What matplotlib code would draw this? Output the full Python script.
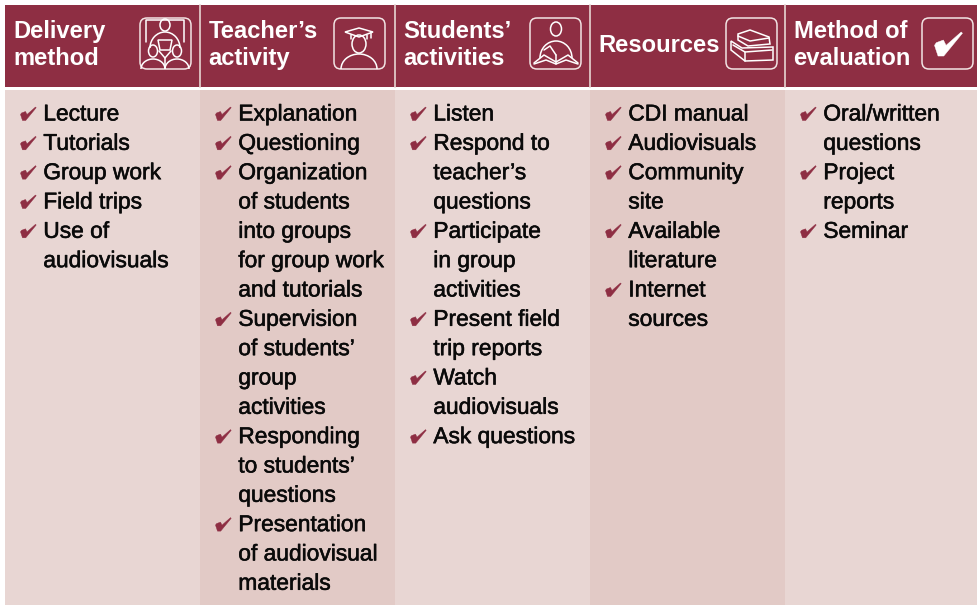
import matplotlib
matplotlib.use('Agg')
import matplotlib.pyplot as plt
import matplotlib.patheffects as pe
from matplotlib.patches import Rectangle, FancyBboxPatch, Ellipse, Arc, Polygon

WINE = '#8E2E43'
LIGHT = '#E8D6D3'
DARK = '#E2CAC6'
CHECK = '#8E2E43'

headers = ['Delivery\nmethod', "Teacher\u2019s\nactivity", "Students\u2019\nactivities",
           'Resources', 'Method of\nevaluation']

delivery = ['Lecture', 'Tutorials', 'Group work', 'Field trips', 'Use of\naudiovisuals']
teacher = ['Explanation', 'Questioning',
           'Organization\nof students\ninto groups\nfor group work\nand tutorials',
           "Supervision\nof students\u2019\ngroup\nactivities",
           "Responding\nto students\u2019\nquestions",
           'Presentation\nof audiovisual\nmaterials']
students = ['Listen', "Respond to\nteacher\u2019s\nquestions", 'Participate\nin group\nactivities',
            'Present field\ntrip reports', 'Watch\naudiovisuals', 'Ask questions']
resources = ['CDI manual', 'Audiovisuals', 'Community\nsite', 'Available\nliterature',
             'Internet\nsources']
evaluation = ['Oral/written\nquestions', 'Project\nreports', 'Seminar']
columns = [delivery, teacher, students, resources, evaluation]

col_edges = [5, 200, 395, 590, 785, 978]
icon_left = [140, 334, 530, 726, 922]
check_shape = [(0, 7.5), (1, 6), (5, 4.5), (6.5, 7.5), (15, 0), (15.7, 0.7), (5.2, 13.5), (2, 13.5)]

fig = plt.figure(figsize=(9.78, 6.05), dpi=100)
ax = fig.add_axes([0, 0, 1, 1])
ax.set_xlim(0, 978)
ax.set_ylim(605, 0)
ax.axis('off')


def line(xs, ys, lw=1.1):
    ax.plot(xs, ys, color='white', lw=lw, solid_capstyle='round', zorder=5)


def oval(x, y, w, h):
    ax.add_patch(Ellipse((x, y), w, h, fill=False, ec='white', lw=1.1, zorder=5))


def arc(x, y, w, h, t1=180, t2=360):
    # y axis is inverted, so 180-360 is the upper half
    ax.add_patch(Arc((x, y), w, h, theta1=t1, theta2=t2, color='white', lw=1.1, zorder=5))


def poly(pts):
    ax.add_patch(Polygon(pts, closed=True, fill=False, ec='white', lw=1.1, zorder=5))


def check(x, y, scale, color):
    pts = [(x + px * scale, y + py * scale) for px, py in check_shape]
    ax.add_patch(Polygon(pts, closed=True, fc=color, ec=color, lw=0.3, zorder=5))


def icon_delivery():
    line([146, 146, 184, 184], [42, 20, 20, 42])
    oval(165, 25, 10, 12)
    arc(165, 48, 30, 32, 180, 360)
    poly([(158, 40), (172, 40), (170, 50), (160, 50)])
    oval(153, 51, 9, 12)
    oval(177, 51, 9, 12)
    arc(153, 69, 24, 20)
    arc(177, 69, 24, 20)
    line([159, 165, 171], [51, 58, 51])
    line([165, 165], [58, 68])


def icon_teacher():
    oval(359, 44, 14, 18)
    poly([(345, 32), (359, 28), (373, 32), (359, 37)])
    line([351, 351], [35, 39])
    line([367, 367], [35, 39])
    line([371, 371], [32, 38])
    arc(359, 69, 36, 30)


def icon_students():
    oval(556, 29, 11, 14)
    arc(556, 58, 32, 34, 180, 360)
    line([534, 544, 556, 568, 578], [63, 55, 62, 55, 63])
    line([534, 546, 556, 566, 578], [64, 60, 64, 60, 64])
    line([556, 556], [55, 64])
    line([544, 550, 556], [50, 46, 55])


def icon_resources():
    poly([(738, 34), (750, 30), (769, 37), (770, 44), (748, 46), (738, 40)])
    line([738, 750, 769], [36, 41, 38])
    poly([(731, 41), (742, 48), (773, 47), (773, 60), (745, 61), (731, 50)])
    line([733, 745, 772], [45, 52, 50])
    line([745, 745], [52, 61])


icon_funcs = [icon_delivery, icon_teacher, icon_students, icon_resources]

for i, (header, items) in enumerate(zip(headers, columns)):
    x0, x1 = col_edges[i], col_edges[i + 1]
    ax.add_patch(Rectangle((x0, 5), x1 - x0, 82, fc=WINE, ec='none', zorder=1))
    ax.add_patch(Rectangle((x0, 90), x1 - x0, 515, fc=DARK if i % 2 else LIGHT, ec='none', zorder=1))
    if i:
        ax.plot([x0, x0], [5, 87], color='#E8D6D3', lw=1.2, zorder=3)

    n_lines = header.count('\n') + 1
    for j, part in enumerate(header.split('\n')):
        y = 45.5 if n_lines == 1 else 31.5 + 27 * j
        ax.text(x0 + 8.5, y, part, family='Liberation Sans', weight='bold', fontsize=17.1,
                color='white', va='center', ha='left', zorder=4)

    ix = icon_left[i]
    ax.add_patch(FancyBboxPatch((ix + 6, 24), 39, 39, boxstyle='round,pad=6,rounding_size=7',
                                fc='none', ec='#F2E4E4', lw=1.1, zorder=4))
    if i < 4:
        icon_funcs[i]()
    else:
        check(ix + 12.5, 32, 1.78, 'white')

    row = 0
    for item in items:
        check(x0 + 15.5, 107 + 29.33 * row, 1.0, CHECK)
        for part in item.split('\n'):
            ax.text(x0 + 38.3, 114 + 29.33 * row, part, family='Liberation Sans', fontsize=16.4,
                    color='#0A0A0A', va='center', ha='left', zorder=4,
                    path_effects=[pe.withStroke(linewidth=0.4, foreground='#0A0A0A')])
            row += 1

fig.savefig('out.png', dpi=100)
